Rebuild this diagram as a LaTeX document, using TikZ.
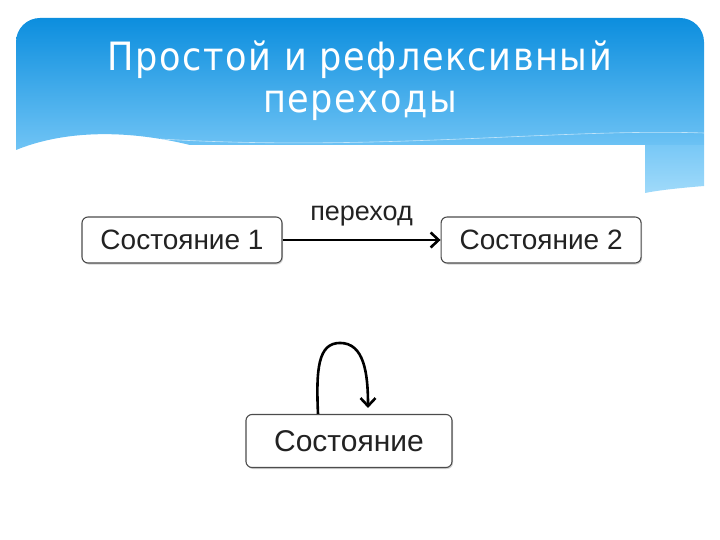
\documentclass[tikz,border=0pt]{standalone}
\usepackage{fontspec}
\setmainfont{Liberation Sans}
\newfontfamily\titlefont[LetterSpace=4]{DejaVu Sans Condensed}
\usetikzlibrary{arrows.meta, positioning, shadows}

\definecolor{bannertop}{RGB}{12,142,222}
\definecolor{bannerbot}{RGB}{112,196,245}
\definecolor{flaptop}{RGB}{120,200,246}
\definecolor{flapbot}{RGB}{160,218,250}
\definecolor{statetext}{RGB}{34,34,34}

\begin{document}
\begin{tikzpicture}[x=1pt, y=-1pt, node distance=158pt, state/.style={
        rectangle,
        rounded corners=6pt,
        draw=black!70,
        line width=1.1pt,
        fill=white,
        text=statetext,
        minimum width=200pt,
        minimum height=46pt,
        font=\fontsize{28}{30}\selectfont,
        drop shadow={shadow xshift=1pt, shadow yshift=-1.5pt, opacity=0.35}
    }, label/.style={
        text=statetext,
        font=\fontsize{27}{29}\selectfont
    }, arrow/.style={
        line width=2.6pt, -{Straight Barb[length=8pt, width=15pt, line width=2.6pt]}
    }]
    \useasboundingbox (0,0) rectangle (720,540);
    % banner
    \shade[top color=bannertop, bottom color=bannerbot]
        (16,150) -- (16,42) arc[start angle=180, end angle=270, radius=24]
        -- (680,18) arc[start angle=270, end angle=360, radius=24]
        -- (704,145) -- (190,145) .. controls (120,128) and (60,132) .. (16,150) -- cycle;
    \shade[top color=flaptop, bottom color=flapbot]
        (645,145) -- (704,145) -- (704,186) .. controls (680,188) and (660,190) .. (645,193) -- cycle;
    \draw[white, opacity=0.6, line width=0.6pt]
        (160,139) .. controls (380,152) and (560,128) .. (704,133);
    \node (title) [align=center, text=white, font=\titlefont\fontsize{39}{42}\selectfont] at (360,81)
        {Простой и рефлексивный\\переходы};
    % simple transition
    \node (s1) [state] at (182,240) {Состояние 1};
    \node (s2) [state, right=of s1] {Состояние 2};
    \draw [arrow] (s1) -- node[label, above=9pt] {переход} (s2);
    % reflexive transition
    \node (s3) [state, minimum width=206pt, minimum height=53pt, font=\fontsize{30}{32}\selectfont] at (349,441) {Состояние};
    \draw [arrow] ([xshift=-31pt]s3.north) .. controls ++(-2,-45) and ++(-22,0) .. ([xshift=-9pt, yshift=71pt]s3.north)
        .. controls ++(24,0) and ++(0,-35) .. ([xshift=19pt, yshift=6pt]s3.north);
\end{tikzpicture}
\end{document}
